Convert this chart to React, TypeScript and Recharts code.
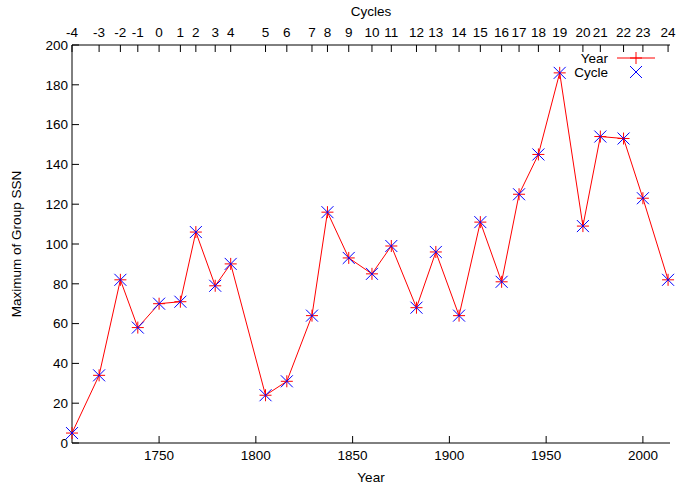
import { ComposedChart, Line, Scatter, XAxis, YAxis } from "recharts"

// cycle maxima: year of maximum, cycle number, maximum of group sunspot number
const cycles = [-4, -3, -2, -1, 0, 1, 2, 3, 4, 5, 6, 7, 8, 9, 10, 11, 12, 13, 14, 15, 16, 17, 18, 19, 20, 21, 22, 23, 24]
const years = [
  1705, 1719, 1730, 1739, 1750, 1761, 1769, 1779, 1787, 1805, 1816, 1829, 1837, 1848, 1860,
  1870, 1883, 1893, 1905, 1916, 1927, 1936, 1946, 1957, 1969, 1978, 1990, 2000, 2013,
]
const maxSSN = [
  5, 34, 82, 58, 70, 71, 106, 79, 90, 24, 31, 64, 116, 93, 85,
  99, 68, 96, 64, 111, 81, 125, 145, 186, 109, 154, 153, 123, 82,
]
const yearTicks = [1750, 1800, 1850, 1900, 1950, 2000]
const ssnTicks = [0, 20, 40, 60, 80, 100, 120, 140, 160, 180, 200]

const data = years.map((year, i) => ({ year, cycle: cycles[i], ssn: maxSSN[i] }))

const font = "'Liberation Sans', Arial, sans-serif"
const tickStyle = { fontSize: 13.5, fill: "#000", fontFamily: font }
const axisLine = { stroke: "#000", strokeWidth: 1 }

function Plus(props: any) {
  const { cx, cy } = props
  if (cx == null || cy == null) return null
  return (
    <g stroke="red" strokeWidth={1}>
      <line x1={cx - 6} y1={cy} x2={cx + 6} y2={cy} />
      <line x1={cx} y1={cy - 6} x2={cx} y2={cy + 6} />
    </g>
  )
}

function Cross(props: any) {
  const { cx, cy } = props
  if (cx == null || cy == null) return null
  return (
    <g stroke="blue" strokeWidth={1}>
      <line x1={cx - 6} y1={cy - 6} x2={cx + 6} y2={cy + 6} />
      <line x1={cx - 6} y1={cy + 6} x2={cx + 6} y2={cy - 6} />
    </g>
  )
}

// key in the top right corner, like gnuplot's
function KeyBox() {
  return (
    <svg width={100} height={40} style={{ position: "absolute", left: 560, top: 48, overflow: "visible" }}>
      <g fontFamily={font} fontSize={13.5} fill="#000" textAnchor="end">
        <text x={48} y={15}>Year</text>
        <text x={48} y={29}>Cycle</text>
      </g>
      <line x1={57} y1={10} x2={95} y2={10} stroke="red" />
      <Plus cx={76} cy={10} />
      <Cross cx={76} cy={24} />
    </svg>
  )
}

export default function App() {
  const cycleOf = (y: number) => {
    const i = years.indexOf(y)
    return i >= 0 ? String(cycles[i]) : ""
  }

  return (
    <div style={{ position: "absolute", left: 0, top: 0, width: 676, height: 488, background: "#fff" }}>
      <ComposedChart width={676} height={488} data={data} margin={{ top: 0, right: 6, bottom: 0, left: 0 }}>
        <XAxis
          xAxisId="bottom"
          dataKey="year"
          type="number"
          domain={[1705, 2014]}
          ticks={yearTicks}
          interval={0}
          height={45}
          tickSize={-7}
          tickMargin={14}
          axisLine={axisLine}
          tickLine={axisLine}
          tick={tickStyle}
          label={{ value: "Year", position: "insideBottom", offset: 6, style: tickStyle }}
        />
        <XAxis
          xAxisId="top"
          orientation="top"
          dataKey="year"
          type="number"
          domain={[1705, 2014]}
          ticks={years}
          interval={0}
          height={45}
          tickSize={-7}
          tickMargin={15}
          tickFormatter={cycleOf}
          axisLine={axisLine}
          tickLine={axisLine}
          tick={tickStyle}
          label={{ value: "Cycles", position: "insideTop", offset: 6, style: tickStyle }}
        />
        <YAxis
          yAxisId="left"
          domain={[0, 200]}
          ticks={ssnTicks}
          interval={0}
          width={72}
          tickSize={-7}
          tickMargin={11}
          axisLine={axisLine}
          tickLine={axisLine}
          tick={tickStyle}
          label={{
            value: "Maximum of Group SSN",
            angle: -90,
            position: "insideLeft",
            offset: 16,
            style: { ...tickStyle, textAnchor: "middle" },
          }}
        />
        <YAxis
          yAxisId="right"
          orientation="right"
          domain={[0, 200]}
          ticks={ssnTicks}
          interval={0}
          width={0}
          tickSize={-7}
          tickFormatter={() => ""}
          axisLine={axisLine}
          tickLine={axisLine}
        />
        <Line
          xAxisId="bottom"
          yAxisId="left"
          dataKey="ssn"
          name="Year"
          stroke="red"
          strokeWidth={1}
          dot={<Plus />}
          activeDot={false}
          isAnimationActive={false}
        />
        <Scatter
          xAxisId="bottom"
          yAxisId="left"
          dataKey="ssn"
          name="Cycle"
          shape={<Cross />}
          isAnimationActive={false}
        />
      </ComposedChart>
      <KeyBox />
    </div>
  )
}
